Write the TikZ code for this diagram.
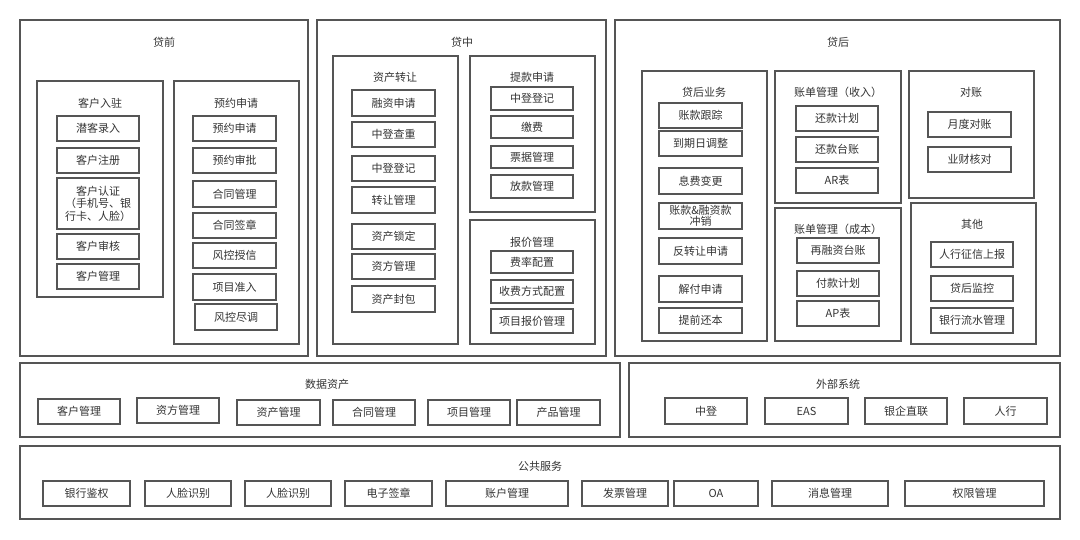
\documentclass[tikz,border=0pt]{standalone}
\usepackage{fontspec}
\setmainfont{Noto Sans CJK SC}
\definecolor{ln}{HTML}{555555}
\definecolor{tx}{HTML}{333333}
\tikzset{
  box/.style={draw=ln, line width=1.2pt, inner sep=0pt, align=center, text=tx,
    font=\fontsize{11}{13}\selectfont},
  ttl/.style={inner sep=0pt, text=tx, font=\fontsize{11}{13}\selectfont}
}
\newcommand{\bx}[6]{\node[box, minimum width={(#4-#2)*1pt}, minimum height={(#5-#3)*1pt}] (#1) at ({(#2+#4)/2},{(#3+#5)/2}) {#6};}
\begin{document}
\begin{tikzpicture}[x=1pt, y=-1pt]
\useasboundingbox (0,0) rectangle (1080,539);
% ===== 贷前 =====
\bx{pre}{20}{20}{308}{356}{}
\node[ttl] (tpre) at (164,42) {贷前};
\bx{g1}{37}{81}{163}{297}{}
\node[ttl] (tg1) at (100,103) {客户入驻};
\bx{a1}{57}{116}{139}{141}{潜客录入}
\bx{a2}{57}{148}{139}{173}{客户注册}
\node[box, minimum width=82pt, minimum height=51pt, font=\fontsize{11}{12.5}\selectfont] (a3) at (98,203.5) {客户认证\\（手机号、银\\行卡、人脸）};
\bx{a4}{57}{234}{139}{259}{客户审核}
\bx{a5}{57}{264}{139}{289}{客户管理}
\bx{g2}{174}{81}{299}{344}{}
\node[ttl] (tg2) at (236,103) {预约申请};
\bx{b1}{193}{116}{276}{141}{预约申请}
\bx{b2}{193}{148}{276}{173}{预约审批}
\bx{b3}{193}{181}{276}{207}{合同管理}
\bx{b4}{193}{213}{276}{238}{合同签章}
\bx{b5}{193}{243}{276}{268}{风控授信}
\bx{b6}{193}{274}{276}{300}{项目准入}
\bx{b7}{195}{304}{277}{330}{风控尽调}
% ===== 贷中 =====
\bx{mid}{317}{20}{606}{356}{}
\node[ttl] (tmid) at (462,42) {贷中};
\bx{g3}{333}{56}{458}{344}{}
\node[ttl] (tg3) at (395,77) {资产转让};
\bx{c1}{352}{90}{435}{116}{融资申请}
\bx{c2}{352}{122}{435}{147}{中登查重}
\bx{c3}{352}{156}{435}{181}{中登登记}
\bx{c4}{352}{187}{435}{213}{转让管理}
\bx{c5}{352}{224}{435}{249}{资产锁定}
\bx{c6}{352}{254}{435}{279}{资方管理}
\bx{c7}{352}{286}{435}{312}{资产封包}
\bx{g4}{470}{56}{595}{212}{}
\node[ttl] (tg4) at (532,77) {提款申请};
\bx{d1}{491}{87}{573}{110}{中登登记}
\bx{d2}{491}{116}{573}{138}{缴费}
\bx{d3}{491}{146}{573}{168}{票据管理}
\bx{d4}{491}{175}{573}{198}{放款管理}
\bx{g5}{470}{220}{595}{344}{}
\node[ttl] (tg5) at (532,242) {报价管理};
\bx{e1}{491}{251}{573}{273}{费率配置}
\bx{e2}{491}{280}{573}{303}{收费方式配置}
\bx{e3}{491}{309}{573}{333}{项目报价管理}
% ===== 贷后 =====
\bx{post}{615}{20}{1060}{356}{}
\node[ttl] (tpost) at (838,42) {贷后};
\bx{g6}{642}{71}{767}{341}{}
\node[ttl] (tg6) at (704,92) {贷后业务};
\bx{f1}{659}{103}{742}{128}{账款跟踪}
\bx{f2}{659}{131}{742}{156}{到期日调整}
\bx{f3}{659}{168}{742}{194}{息费变更}
\node[box, minimum width=83pt, minimum height=26pt, font=\fontsize{11}{11.5}\selectfont] (f4) at (700.5,216) {账款\&融资款\\冲销};
\bx{f5}{659}{238}{742}{264}{反转让申请}
\bx{f6}{659}{276}{742}{302}{解付申请}
\bx{f7}{659}{308}{742}{333}{提前还本}
\bx{g7}{775}{71}{901}{203}{}
\node[ttl] (tg7) at (838,92) {账单管理（收入）};
\bx{h1}{796}{106}{878}{131}{还款计划}
\bx{h2}{796}{137}{878}{162}{还款台账}
\bx{h3}{796}{168}{878}{193}{AR表}
\bx{g8}{775}{208}{901}{341}{}
\node[ttl] (tg8) at (838,229) {账单管理（成本）};
\bx{i1}{797}{238}{879}{263}{再融资台账}
\bx{i2}{797}{271}{879}{296}{付款计划}
\bx{i3}{797}{301}{879}{326}{AP表}
\bx{g9}{909}{71}{1034}{198}{}
\node[ttl] (tg9) at (971,92) {对账};
\bx{j1}{928}{112}{1011}{137}{月度对账}
\bx{j2}{928}{147}{1011}{172}{业财核对}
\bx{g10}{911}{203}{1036}{344}{}
\node[ttl] (tg10) at (972,224) {其他};
\bx{k1}{931}{242}{1013}{267}{人行征信上报}
\bx{k2}{931}{276}{1013}{301}{贷后监控}
\bx{k3}{931}{308}{1013}{333}{银行流水管理}
% ===== 数据资产 =====
\bx{data}{20}{363}{620}{437}{}
\node[ttl] (tdata) at (327,384) {数据资产};
\bx{m1}{38}{399}{120}{424}{客户管理}
\bx{m2}{137}{398}{219}{423}{资方管理}
\bx{m3}{237}{400}{320}{425}{资产管理}
\bx{m4}{333}{400}{415}{425}{合同管理}
\bx{m5}{428}{400}{510}{425}{项目管理}
\bx{m6}{517}{400}{600}{425}{产品管理}
% ===== 外部系统 =====
\bx{ext}{629}{363}{1060}{437}{}
\node[ttl] (text) at (838,384) {外部系统};
\bx{n1}{665}{398}{747}{424}{中登}
\bx{n2}{765}{398}{848}{424}{EAS}
\bx{n3}{865}{398}{947}{424}{银企直联}
\bx{n4}{964}{398}{1047}{424}{人行}
% ===== 公共服务 =====
\bx{pub}{20}{446}{1060}{519}{}
\node[ttl] (tpub) at (540,466) {公共服务};
\bx{p1}{43}{481}{130}{506}{银行鉴权}
\bx{p2}{145}{481}{231}{506}{人脸识别}
\bx{p3}{245}{481}{331}{506}{人脸识别}
\bx{p4}{345}{481}{432}{506}{电子签章}
\bx{p5}{446}{481}{568}{506}{账户管理}
\bx{p6}{582}{481}{668}{506}{发票管理}
\bx{p7}{674}{481}{758}{506}{OA}
\bx{p8}{772}{481}{888}{506}{消息管理}
\bx{p9}{905}{481}{1044}{506}{权限管理}
\end{tikzpicture}
\end{document}
